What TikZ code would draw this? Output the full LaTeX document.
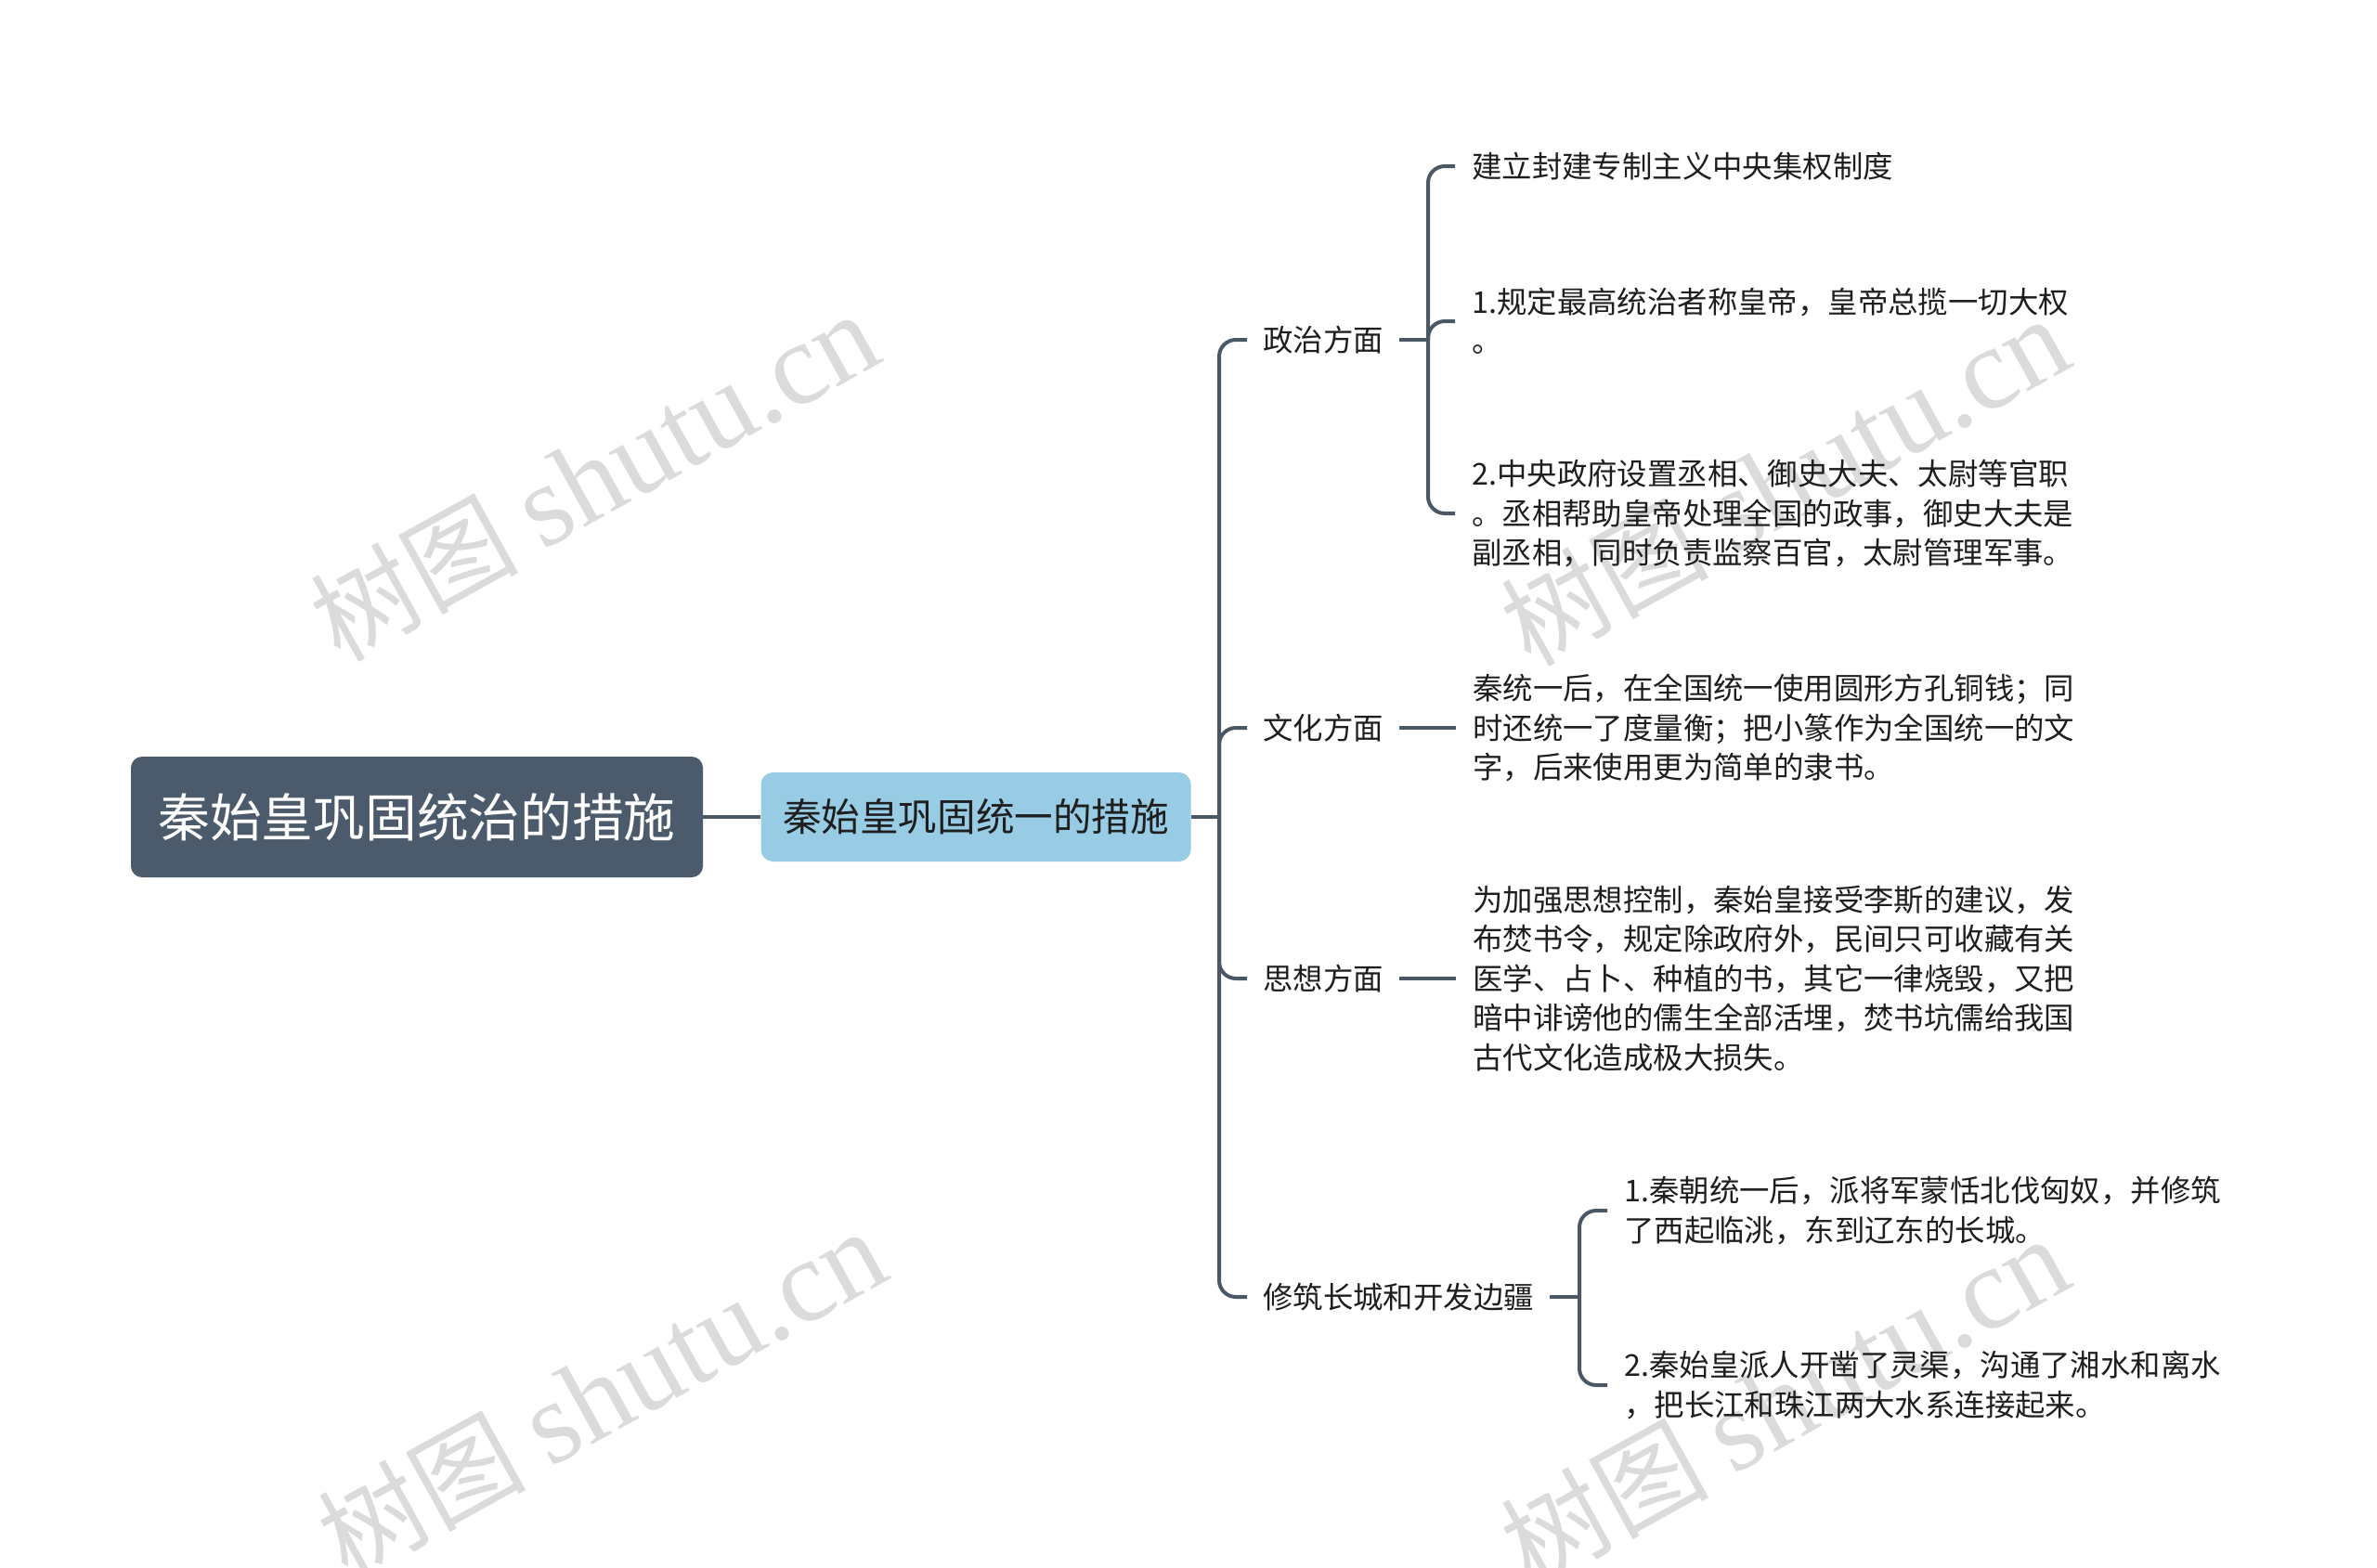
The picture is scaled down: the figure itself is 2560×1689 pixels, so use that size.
\documentclass[tikz,border=0pt]{standalone}
\usepackage{fontspec}
\usepackage{tikz}
\newfontfamily\cjk{Noto Sans CJK SC}
\newfontfamily\wmfont{Liberation Serif}
\definecolor{slate}{RGB}{75,91,107}
\definecolor{skyfill}{RGB}{152,204,228}
\definecolor{linec}{RGB}{74,88,102}
\definecolor{inkc}{RGB}{30,30,30}

\begin{document}
\begin{tikzpicture}[x=1pt, y=-1pt,
	every node/.style={font=\cjk, text=inkc},
	link/.style={draw=linec, line width=4pt},
	elbow/.style={link, rounded corners=18pt},
	topic/.style={anchor=west, inner xsep=17pt, inner ysep=4pt, font=\cjk\fontsize{32.4}{42.5}\selectfont},
	leaf/.style={topic, align=left, inner xsep=18pt},
	wmark/.style={rotate=29, text=black!14, font=\cjk\fontsize{112}{112}\selectfont}]
	\useasboundingbox (0,0) rectangle (2560,1689);
	% watermarks
	\node[wmark] (wm1) at (640,514) {树图 {\wmfont\fontsize{126}{126}\selectfont shutu.cn}};
	\node[wmark] (wm2) at (1922,519) {树图 {\wmfont\fontsize{126}{126}\selectfont shutu.cn}};
	\node[wmark] (wm3) at (648,1502) {树图 {\wmfont\fontsize{126}{126}\selectfont shutu.cn}};
	\node[wmark] (wm4) at (1922,1510) {树图 {\wmfont\fontsize{126}{126}\selectfont shutu.cn}};
	% centre
	\node[fill=slate, rounded corners=12pt, minimum width=616pt, minimum height=130pt, text=white, font=\cjk\fontsize{55.7}{60}\selectfont] (root) at (449,880) {秦始皇巩固统治的措施};
	\node[fill=skyfill, rounded corners=13pt, minimum width=463pt, minimum height=96pt, font=\cjk\fontsize{41.6}{46}\selectfont] (main) at (1051,880) {秦始皇巩固统一的措施};
	\draw[link] (root) -- (main);
	\coordinate (trunk) at (1313,880);
	\draw[link] (main.east) -- (trunk);
	% four aspects
	\node[topic] (zz) at (1343,366) {政治方面};
	\node[topic] (wh) at (1343,784) {文化方面};
	\node[topic] (sx) at (1343,1054) {思想方面};
	\node[topic] (cc) at (1343,1397) {修筑长城和开发边疆};
	\foreach \t in {zz,wh,sx,cc}
		\draw[elbow] (trunk) |- (\t.west);
	% politics
	\coordinate (zzfork) at (1538,366);
	\draw[link] (zz.east) -- (zzfork);
	\node[leaf] (zz1) at (1567,179) {建立封建专制主义中央集权制度};
	\node[leaf] (zz2) at (1567,346) {1.规定最高统治者称皇帝，皇帝总揽一切大权\\。};
	\node[leaf] (zz3) at (1567,553) {2.中央政府设置丞相、御史大夫、太尉等官职\\。丞相帮助皇帝处理全国的政事，御史大夫是\\副丞相，同时负责监察百官，太尉管理军事。};
	\foreach \t in {zz1,zz2,zz3}
		\draw[elbow] (zzfork) |- (\t.west);
	% culture, thought
	\node[leaf] (wh1) at (1568,784) {秦统一后，在全国统一使用圆形方孔铜钱；同\\时还统一了度量衡；把小篆作为全国统一的文\\字，后来使用更为简单的隶书。};
	\draw[link] (wh.east) -- (wh1.west);
	\node[leaf] (sx1) at (1568,1054) {为加强思想控制，秦始皇接受李斯的建议，发\\布焚书令，规定除政府外，民间只可收藏有关\\医学、占卜、种植的书，其它一律烧毁，又把\\暗中诽谤他的儒生全部活埋，焚书坑儒给我国\\古代文化造成极大损失。};
	\draw[link] (sx.east) -- (sx1.west);
	% great wall
	\coordinate (ccfork) at (1701,1397);
	\draw[link] (cc.east) -- (ccfork);
	\node[leaf] (cc1) at (1731,1304) {1.秦朝统一后，派将军蒙恬北伐匈奴，并修筑\\了西起临洮，东到辽东的长城。};
	\node[leaf] (cc2) at (1731,1492) {2.秦始皇派人开凿了灵渠，沟通了湘水和离水\\，把长江和珠江两大水系连接起来。};
	\foreach \t in {cc1,cc2}
		\draw[elbow] (ccfork) |- (\t.west);
\end{tikzpicture}
\end{document}
